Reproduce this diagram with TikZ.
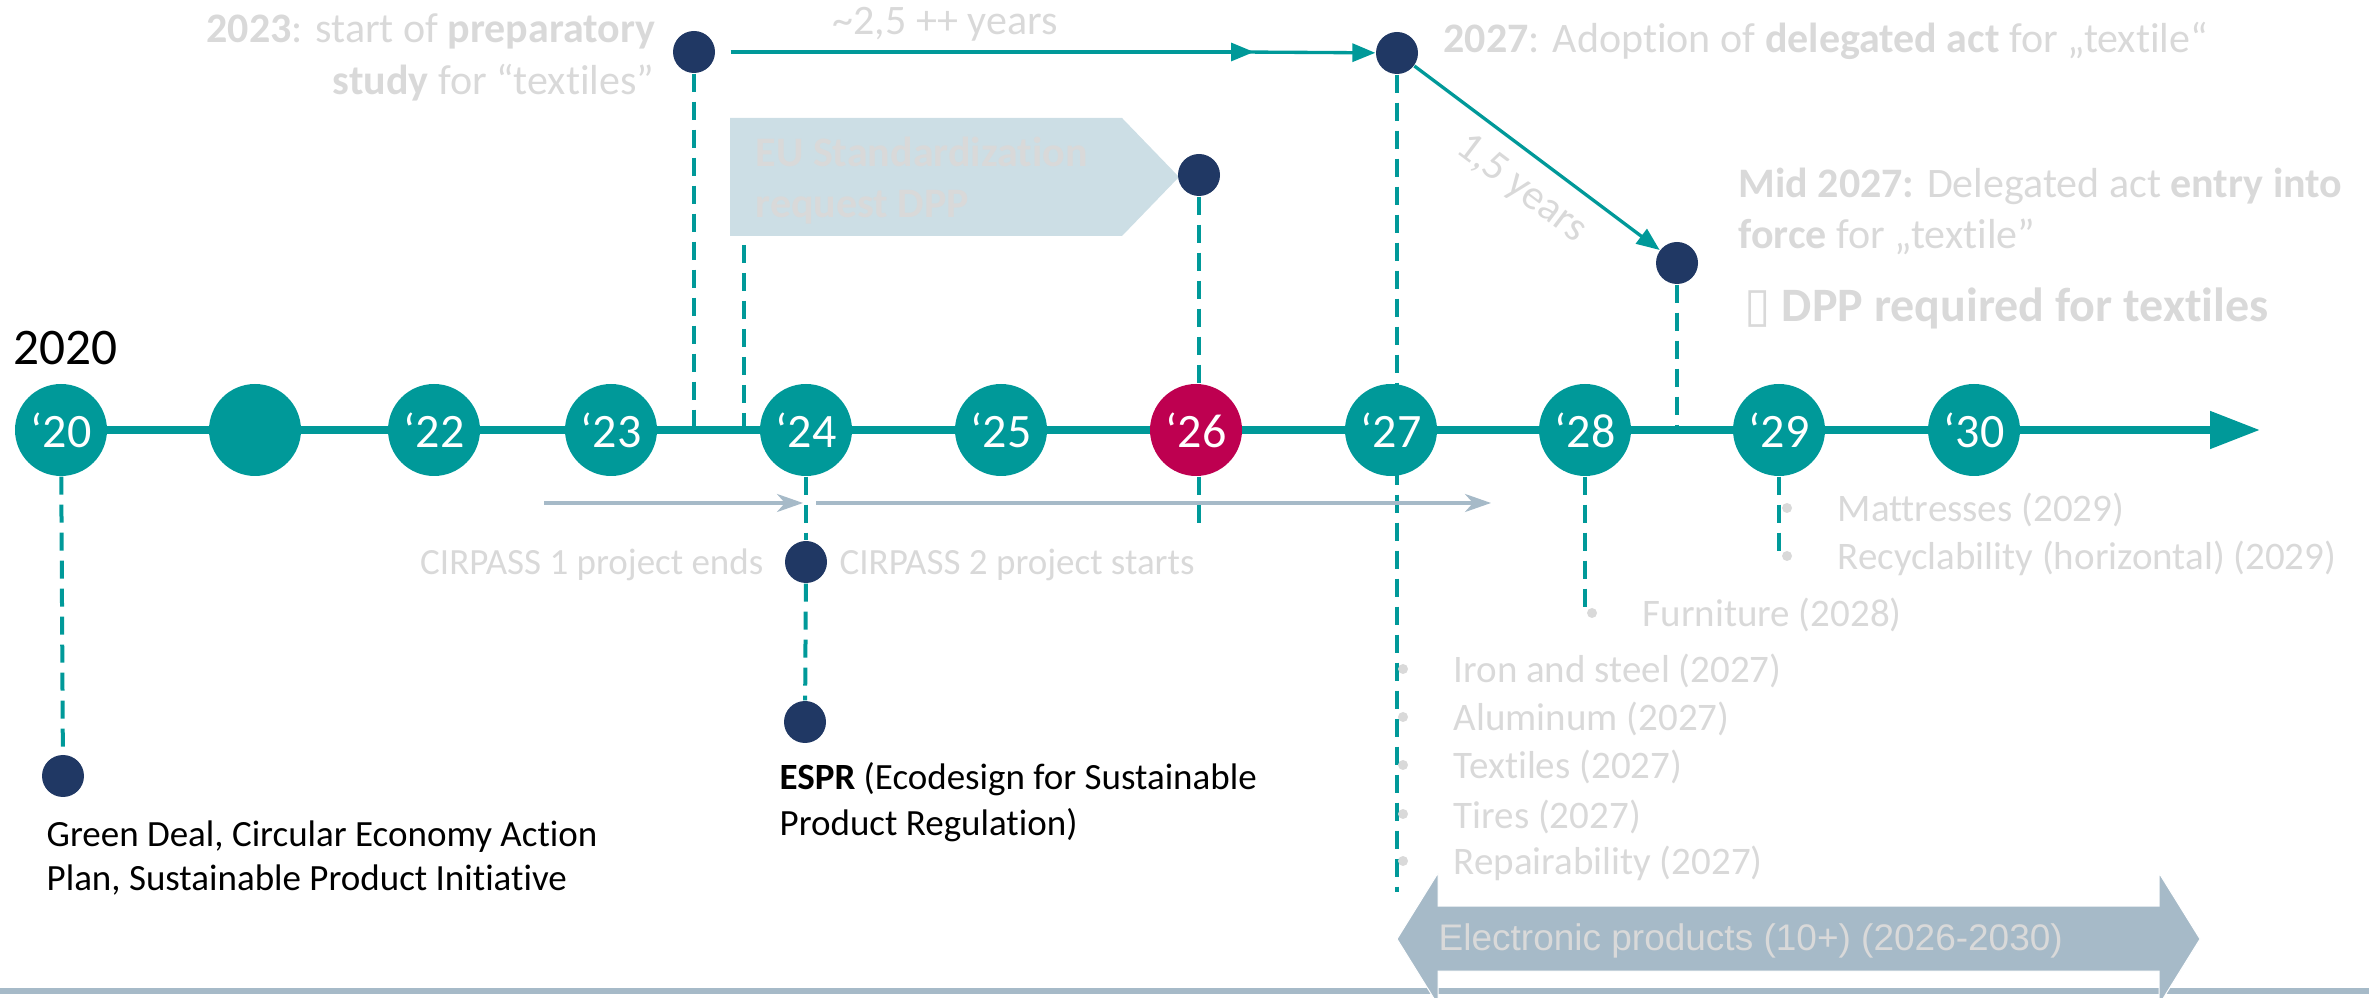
\documentclass[tikz,border=0pt]{standalone}
\usepackage{fontspec}
\setmainfont{Carlito}[Ligatures=NoCommon]
\newfontfamily\arialfont{Liberation Sans}
\newfontfamily\dejavu{DejaVu Sans}
\usetikzlibrary{arrows.meta}
\definecolor{tealc}{RGB}{0,153,153}
\definecolor{navy}{RGB}{32,56,100}
\definecolor{berry}{RGB}{190,0,80}
\definecolor{ltgray}{RGB}{217,217,217}
\definecolor{bluegray}{RGB}{166,186,200}
\definecolor{paleblue}{RGB}{204,222,229}
\begin{document}
\begin{tikzpicture}[x=0.3pt,y=0.3pt,
  year/.style={circle,fill=tealc,text=white,minimum size=27.6pt,inner sep=0pt,font=\fontsize{14.4}{17}\selectfont},
  event/.style={circle,fill=navy,minimum size=12.6pt,inner sep=0pt},
  stem/.style={tealc,line width=1.2pt,dash pattern=on 5.4pt off 3pt},
  note/.style={text=ltgray,inner sep=0pt,font=\fontsize{12.6}{15}\selectfont},
  plain/.style={text=black,inner sep=0pt,anchor=base west,font=\fontsize{11.1}{13}\selectfont},
  listtext/.style={text=ltgray,inner sep=0pt,anchor=base west,font=\fontsize{11.7}{14}\selectfont},
  tealarrow/.style={tealc,line width=1pt,-{Triangle[length=6.9pt,width=5.4pt]}},
  cirarrow/.style={bluegray,line width=1.05pt,-{Stealth[length=7.8pt,width=5.4pt,inset=2.4pt]}}]
\useasboundingbox (0,0) rectangle (2369,-998);
\fill[paleblue] (730,-118) -- (1122,-118) -- (1179,-177) -- (1122,-236) -- (730,-236) -- cycle;
\node[note,anchor=base west,font=\bfseries\fontsize{12.6}{15}\selectfont] (std1) at (755,-167) {EU Standardization};
\node[note,anchor=base west,font=\bfseries\fontsize{12.6}{15}\selectfont] (std2) at (755,-218) {request DPP};
\node[event] (d23) at (694,-52) {};
\node[event] (d27) at (1397,-53) {};
\node[event] (dstd) at (1199,-175) {};
\node[event] (dmid) at (1677,-263) {};
\node[event] (dcir) at (806,-562) {};
\node[event] (despr) at (805,-722) {};
\node[event] (dgreen) at (63,-776) {};
\coordinate (a23) at (694,-430);
\coordinate (stdfoot) at (744,-245);
\coordinate (a24) at (744,-430);
\coordinate (s26) at (1199,-527);
\coordinate (s27) at (1397,-892);
\coordinate (amid) at (1677,-430);
\coordinate (s28) at (1585,-607);
\coordinate (s29) at (1779,-551);
\draw[stem] (d23) -- (a23);
\draw[stem] (stdfoot) -- (a24);
\draw[stem] (dstd) -- (s26);
\draw[stem] (d27) -- (s27);
\draw[stem] (dmid) -- (amid);
\coordinate (axisstart) at (61,-430);
\coordinate (axisend) at (2260,-430);
\draw[tealc,line width=2.4pt,-{Triangle[length=15pt,width=10.8pt]}] (axisstart) -- (axisend);
\foreach \n/\x/\lab/\c in {20/61/‘20/tealc,21/255//tealc,22/434/‘22/tealc,23/611/‘23/tealc,24/806/‘24/tealc,25/1001/‘25/tealc,26/1196/‘26/berry,27/1391/‘27/tealc,28/1585/‘28/tealc,29/1779/‘29/tealc,30/1974/‘30/tealc}
  \node[year,fill=\c] (y\n) at (\x,-430) {\lab};
\draw[stem] (y20) -- (dgreen);
\draw[stem] (y24) -- (dcir);
\draw[stem] (dcir) -- (despr);
\draw[stem] (y28) -- (s28);
\draw[stem] (y29) -- (s29);
\coordinate (mid25) at (1254,-52);
\coordinate (mid25b) at (1240,-52);
\draw[tealarrow,shorten <=4.5pt] (d23) -- (mid25);
\draw[tealarrow] (mid25b) -- (d27);
\draw[tealarrow] (d27) -- (dmid);
\coordinate (c1s) at (544,-503);
\coordinate (c1e) at (803,-503);
\coordinate (c2s) at (816,-503);
\coordinate (c2e) at (1491,-503);
\draw[cirarrow] (c1s) -- (c1e);
\draw[cirarrow] (c2s) -- (c2e);
\node[note,anchor=base east] (t23a) at (656,-43) {\textbf{2023}: start of \textbf{preparatory}};
\node[note,anchor=base east] (t23b) at (655,-95) {\textbf{study} for “textiles”};
\node[note,anchor=base] (t25) at (945,-35) {\textasciitilde 2,5 ++ years};
\node[note,anchor=base west] (t27) at (1443,-53) {\textbf{2027}: Adoption of \textbf{delegated act} for „textile“};
\node[note,rotate=-37] (t15) at (1521,-189) {1,5 years};
\node[note,anchor=base west] (tmida) at (1738,-198) {\textbf{Mid 2027:} Delegated act \textbf{entry into}};
\node[note,anchor=base west] (tmidb) at (1738,-249) {\textbf{force} for „textile”};
\node[note,anchor=base west,font=\fontsize{14.4}{17}\selectfont] (tdpp) at (1744,-322) {{\dejavu ▯}~\textbf{DPP required for textiles}};
\node[anchor=base west,inner sep=0pt,font=\fontsize{15.4}{18}\selectfont] (t2020) at (13,-365) {2020};
\node[plain,text=ltgray,anchor=base east] (cir1) at (764,-575) {CIRPASS 1 project ends};
\node[plain,text=ltgray] (cir2) at (839,-575) {CIRPASS 2 project starts};
\node[plain] (espr1) at (779,-790) {\textbf{ESPR} (Ecodesign for Sustainable};
\node[plain] (espr2) at (779,-835) {Product Regulation)};
\node[plain] (green1) at (46,-846) {Green Deal, Circular Economy Action};
\node[plain] (green2) at (46,-890) {Plan, Sustainable Product Initiative};
\foreach \x/\y/\txt [count=\i] in {1837/522/Mattresses (2029),1837/570/Recyclability (horizontal) (2029),1642/627/Furniture (2028),1453/683/Iron and steel (2027),1453/731/Aluminum (2027),1453/779/Textiles (2027),1453/828/Tires (2027),1453/875/Repairability (2027)}
{\fill[ltgray] (\x-50,-\y+14) circle (1.5pt);
 \node[listtext] (item\i) at (\x,-\y) {\txt};}
\coordinate (baseL) at (0,-991);
\coordinate (baseR) at (2369,-991);
\draw[bluegray,line width=1.8pt] (baseL) -- (baseR);
\filldraw[fill=bluegray,draw=white,line width=0.3pt] (1397,-939) -- (1438,-873) -- (1438,-906) -- (2159,-906) -- (2159,-873) -- (2200,-939) -- (2159,-1005) -- (2159,-971) -- (1438,-971) -- (1438,-1005) -- cycle;
\node[anchor=base west,text=ltgray,inner sep=0pt,font=\arialfont\fontsize{11.1}{13}\selectfont] (elec) at (1438,-950) {Electronic products (10+) (2026-2030)};
\end{tikzpicture}
\end{document}
